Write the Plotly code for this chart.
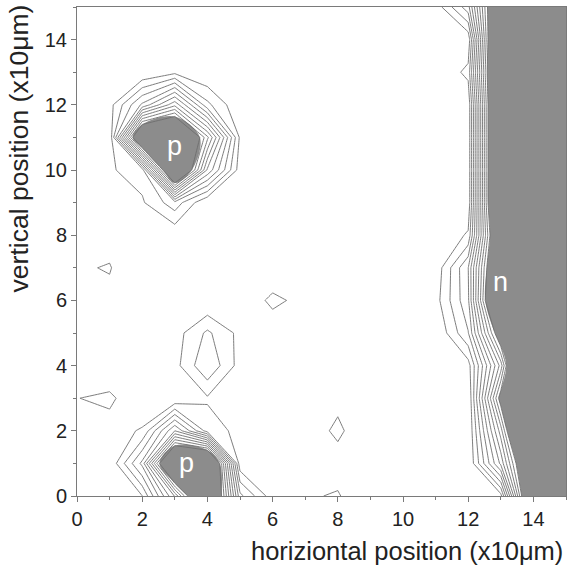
import plotly.graph_objects as go

# grid positions (x10 um)
x_pos = list(range(16))
y_pos = list(range(16))

# measured signal on the 16x16 grid, rows = vertical position 0..15, cols = horizontal 0..15
row_00 = [0, 0, 0.98, 7.1, 16.9, 3.3, 0.4, 0.87, 1.1, 0, 0, 0, 0, 0.6, 16.85, 20]
row_01 = [0, 0.14, 4.27, 17, 17.5, 0.3, 0, 0, 0.5, 0, 0, 0, 0, 6.25, 16.4, 20]
row_02 = [0, 0.6, 1.1, 6.0, 1.5, 0.72, 0, 0.29, 1.25, 0, 0, 0, 0, 8.5, 21.7, 20]
row_03 = [0.98, 1.2, 0.2, 0, 0.88, 0.3, 0, 0, 0.67, 0, 0, 0, 0, 11.8, 22, 20]
row_04 = [0, 0.2, 0, 0.63, 2.9, 0.59, 0, 0, 0, 0, 0, 0, 0.55, 8.4, 24, 20]
row_05 = [0, 0, 0, 0.53, 2.2, 0.7, 0.2, 0, 0, 0, 0, 0, 2.94, 12.8, 20, 20]
row_06 = [0, 0.74, 0, 0, 0, 0, 1.3, 0.6, 0, 0, 0, 0.58, 3.8, 17.6, 20, 20]
row_07 = [0.89, 1.064, 0, 0, 0, 0, 0, 0, 0, 0, 0, 0.3, 3.98, 16.3, 20, 20]
row_08 = [0, 0.61, 0, 0.2, 0, 0, 0, 0, 0, 0, 0, 0, 1.15, 15.9, 20, 20]
row_09 = [0, 0, 0.87, 2.6, 0, 0, 0, 0, 0, 0, 0, 0, 0.15, 18, 20, 20]
row_10 = [0, 0.89, 1.44, 16.6, 5.83, 0.46, 0, 0, 0, 0, 0, 0, 0.15, 18, 20, 20]
row_11 = [0, 0.07, 15.5, 16.9, 9.24, 0.8, 0, 0, 0, 0, 0, 0, 0.15, 18, 20, 20]
row_12 = [0, 0.6, 4.2, 7.7, 2.27, 0.12, 0, 0, 0, 0, 0, 0, 0.15, 18, 20, 20]
row_13 = [0, 0, 0, 0.7, 0, 0, 0, 0, 0, 0, 0, 0, 1.3, 18, 20, 20]
row_14 = [0, 0, 0, 0, 0, 0, 0, 0, 0, 0, 0, 0, 0.2, 18, 20, 20]
row_15 = [0, 0, 0, 0, 0, 0, 0, 0, 0, 0, 0, 0.39, 3.6, 16.1, 20, 20]

z = [row_00, row_01, row_02, row_03, row_04, row_05, row_06, row_07,
     row_08, row_09, row_10, row_11, row_12, row_13, row_14, row_15]

level_start = 1
level_end = 11
level_step = 1
fill_level = 11

tick_vals = [0, 2, 4, 6, 8, 10, 12, 14]
tick_text = ["0", "2", "4", "6", "8", "10", "12", "14"]

region_labels = ["p", "p", "n"]
region_x = [3.0, 3.35, 13.0]
region_y = [10.75, 1.0, 6.55]

FILL = "#8c8c8c"
LINE = "#6e6e6e"
AX = "#7a7a7a"
FONT = "Liberation Sans, Arial, sans-serif"

fig = go.Figure()

# shaded high-signal regions (constraint shades the region violating z < fill_level)
fig.add_trace(go.Contour(
    x=x_pos, y=y_pos, z=z,
    contours=dict(type="constraint", operation="<", value=fill_level),
    fillcolor=FILL,
    line=dict(width=0, color=FILL),
    showscale=False, hoverinfo="skip", showlegend=False,
))

# iso-lines
fig.add_trace(go.Contour(
    x=x_pos, y=y_pos, z=z,
    contours=dict(coloring="none", start=level_start, end=level_end, size=level_step),
    line=dict(color=LINE, width=0.9, smoothing=0),
    showscale=False, hoverinfo="skip", showlegend=False,
))

for t, xx, yy in zip(region_labels, region_x, region_y):
    fig.add_annotation(x=xx, y=yy, text=t, showarrow=False,
                       font=dict(family=FONT, size=27, color="white"))

axis_common = dict(
    range=[0, 15], showgrid=False, zeroline=False,
    showline=True, linecolor=AX, linewidth=1, mirror=True,
    ticks="outside", ticklen=5, tickcolor=AX, tickwidth=1,
    tickvals=tick_vals, ticktext=tick_text,
    tickfont=dict(family=FONT, size=20, color="#222222"),
    minor=dict(ticks="outside", ticklen=3, dtick=1, tick0=0, tickcolor=AX),
)

fig.update_xaxes(**axis_common)
fig.update_yaxes(**axis_common)

fig.add_annotation(xref="paper", yref="paper", x=0.998, y=-0.08,
                   xanchor="right", yanchor="top", showarrow=False,
                   text="horiziontal position (x10μm)",
                   font=dict(family=FONT, size=25.5, color="#222222"))
fig.add_annotation(xref="paper", yref="paper", x=-0.118, y=1.01,
                   xanchor="center", yanchor="top", textangle=-90, showarrow=False,
                   text="vertical position (x10μm)",
                   font=dict(family=FONT, size=26.5, color="#222222"))

fig.update_layout(
    width=567, height=566,
    margin=dict(l=77, r=1, t=7, b=70),
    paper_bgcolor="white", plot_bgcolor="white",
    showlegend=False,
)

fig.write_html("out.html", config={"displayModeBar": False},
               post_script="document.body.style.margin='0';document.body.style.overflow='hidden';")
